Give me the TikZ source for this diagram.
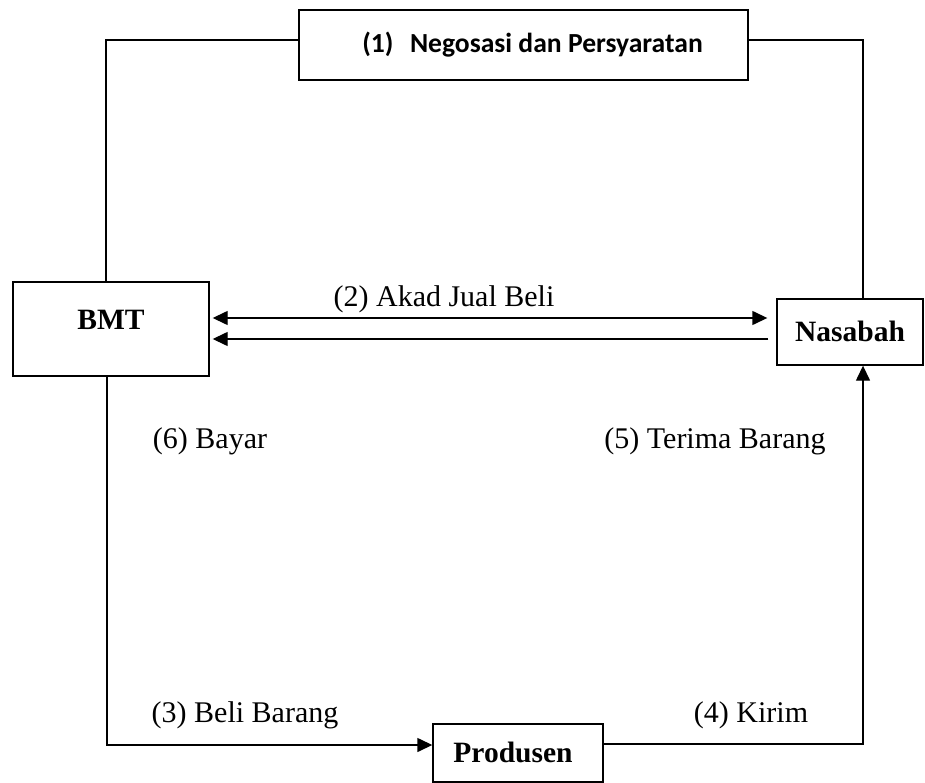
\documentclass[tikz,border=0pt]{standalone}
\usepackage{fontspec}
\setmainfont{Liberation Serif}
\newfontfamily\calib{Carlito}
\usetikzlibrary{arrows.meta,calc}
\begin{document}
\begin{tikzpicture}[x=1pt,y=-1pt,
  box/.style={draw,line width=1.4pt,inner sep=0pt,anchor=center},
  lbl/.style={font=\fontsize{30}{34}\selectfont,inner sep=0pt,anchor=center},
  conn/.style={line width=1.4pt},
  head/.tip={Triangle[length=15pt,width=14pt]},
  tip/.style={-head}]
\useasboundingbox (0,0) rectangle (925,783);
% boxes
\node[box,minimum width=449pt,minimum height=70pt] (neg) at (523.5,45)
  {\hspace{18pt}\raisebox{5pt}{\calib\bfseries\fontsize{27.6}{32}\selectfont(1)\hspace{0.6em}Negosasi dan Persyaratan}};
\node[box,minimum width=196pt,minimum height=94pt] (bmt) at (111,329)
  {\raisebox{19pt}{\fontsize{29.5}{34}\selectfont\bfseries BMT}};
\node[box,minimum width=146pt,minimum height=66pt] (nas) at (850,332)
  {\raisebox{2pt}{\fontsize{29.5}{34}\selectfont\bfseries Nasabah}};
\node[box,minimum width=170pt,minimum height=58pt] (prod) at (518,753)
  {\hspace{-10pt}\raisebox{1pt}{\fontsize{29.5}{34}\selectfont\bfseries Produsen}};
% negotiation loop over the top
\draw[conn] ([xshift=-5pt]bmt.north) |- ([yshift=5pt]neg.west);
\draw[conn] ([yshift=5pt]neg.east) -| ([xshift=13pt]nas.north);
% sale contract
\draw[conn,head-head,shorten <=3pt,shorten >=9pt]
  ([yshift=11pt]bmt.east) -- ([yshift=11pt]bmt.east -| nas.west);
\draw[conn,tip,shorten <=8pt,shorten >=3pt]
  ([yshift=-10pt]bmt.east -| nas.west) -- ([yshift=-10pt]bmt.east);
% purchase and delivery
\draw[conn,tip] ([xshift=-4pt]bmt.south) |- ([yshift=8pt]prod.west);
\draw[conn,tip] ([yshift=9pt]prod.east) -| ([xshift=13pt]nas.south);
% labels
\node[lbl] (l2) at (444,299) {(2) Akad Jual Beli};
\node[lbl] (l6) at (210,441) {(6) Bayar};
\node[lbl] (l5) at (715,441) {(5) Terima Barang};
\node[lbl] (l3) at (245,715) {(3) Beli Barang};
\node[lbl] (l4) at (751,715) {(4) Kirim};
\end{tikzpicture}
\end{document}
